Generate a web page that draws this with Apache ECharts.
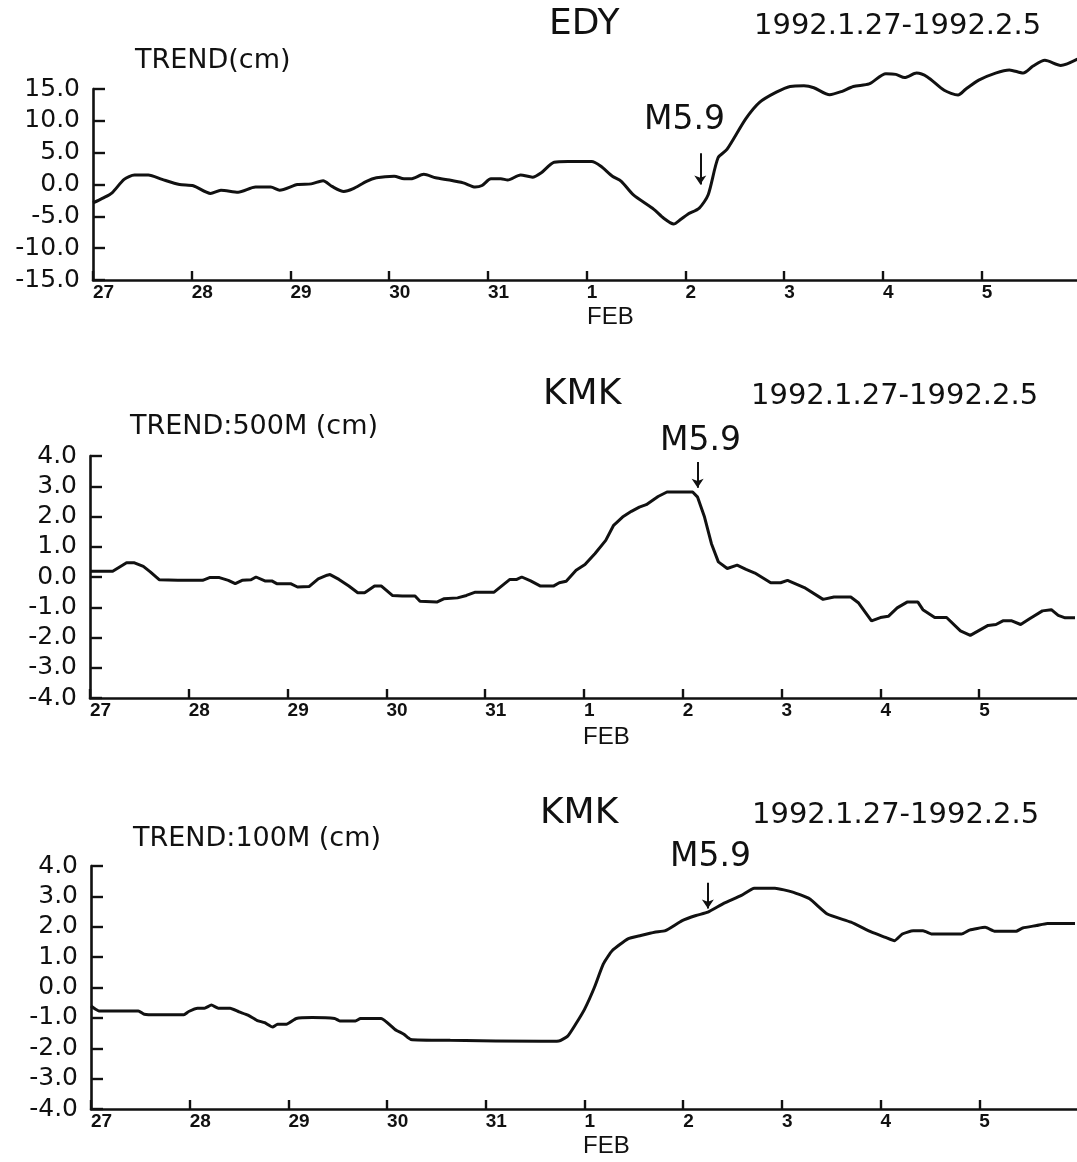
<!DOCTYPE html>
<html>
<head>
<meta charset="utf-8">
<script src="https://cdn.jsdelivr.net/npm/echarts@6/dist/echarts.min.js"></script>
<style>
html,body{margin:0;padding:0;background:#fff;}
#c{width:1077px;height:1162px;}
</style>
</head>
<body>
<div id="c"></div>
<script>
// x = days since 1992-01-27 00h
const tickLabels = ['27','28','29','30','31','1','2','3','4','5'];

const edyDay = [0,0.105,0.193,0.315,0.42,0.56,0.70,0.876,1.016,1.19,1.296,1.47,1.646,1.80,1.89,2.07,2.21,2.33,2.42,2.54,2.63,2.77,2.87,3.05,3.15,3.22,3.35,3.47,3.61,3.75,3.87,3.94,4.03,4.13,4.20,4.33,4.45,4.54,4.67,4.81,5.05,5.14,5.26,5.35,5.47,5.68,5.78,5.88,5.95,6.02,6.14,6.23,6.33,6.42,6.61,6.75,6.92,7.06,7.20,7.30,7.46,7.58,7.70,7.86,8.03,8.13,8.22,8.34,8.45,8.62,8.76,8.84,8.97,9.14,9.28,9.42,9.52,9.64,9.80,9.97];
const edyVal = [-2.9,-2.1,-1.3,0.8,1.5,1.5,0.8,0,-0.2,-1.4,-0.9,-1.2,-0.4,-0.4,-0.9,0,0.1,0.6,-0.3,-1.1,-0.7,0.5,1.05,1.3,0.9,0.9,1.6,1.05,0.7,0.25,-0.4,-0.15,0.9,0.9,0.7,1.5,1.15,1.85,3.5,3.6,3.6,2.9,1.3,0.5,-1.6,-3.9,-5.3,-6.2,-5.5,-4.7,-3.7,-1.6,4.2,5.5,10.3,12.9,14.5,15.4,15.5,15.2,14.1,14.6,15.4,15.8,17.4,17.3,16.8,17.5,16.9,14.8,14.05,15.0,16.4,17.5,18.0,17.5,18.6,19.5,18.7,19.7];

const k500Day = [0,0.23,0.37,0.45,0.54,0.61,0.70,0.89,1.14,1.21,1.31,1.40,1.47,1.54,1.63,1.68,1.77,1.84,1.89,2.03,2.10,2.22,2.31,2.40,2.43,2.52,2.62,2.71,2.78,2.88,2.95,3.06,3.16,3.29,3.34,3.51,3.58,3.72,3.81,3.90,4.09,4.25,4.32,4.37,4.46,4.56,4.69,4.75,4.82,4.92,5.01,5.11,5.22,5.30,5.39,5.48,5.56,5.63,5.75,5.84,6.10,6.15,6.22,6.29,6.36,6.45,6.55,6.64,6.73,6.89,6.99,7.06,7.23,7.42,7.53,7.70,7.78,7.91,8.00,8.08,8.17,8.27,8.38,8.43,8.55,8.67,8.81,8.91,9.09,9.17,9.24,9.33,9.42,9.51,9.64,9.73,9.80,9.87,9.97];
const k500Val = [0.19,0.19,0.47,0.47,0.35,0.17,-0.09,-0.11,-0.11,-0.02,-0.02,-0.11,-0.22,-0.11,-0.09,0,-0.13,-0.13,-0.22,-0.22,-0.33,-0.31,-0.06,0.06,0.08,-0.08,-0.30,-0.52,-0.52,-0.30,-0.30,-0.61,-0.63,-0.63,-0.80,-0.83,-0.72,-0.69,-0.61,-0.50,-0.50,-0.08,-0.08,0,-0.13,-0.30,-0.30,-0.19,-0.14,0.22,0.41,0.77,1.21,1.71,1.98,2.17,2.31,2.39,2.66,2.81,2.81,2.64,1.98,1.10,0.50,0.28,0.39,0.25,0.13,-0.19,-0.19,-0.11,-0.35,-0.74,-0.66,-0.66,-0.86,-1.45,-1.34,-1.30,-1.02,-0.83,-0.83,-1.08,-1.34,-1.34,-1.78,-1.93,-1.60,-1.57,-1.45,-1.45,-1.57,-1.38,-1.12,-1.08,-1.27,-1.35,-1.35];

const k100Day = [0,0.08,0.24,0.48,0.54,0.66,0.94,0.99,1.08,1.15,1.22,1.29,1.41,1.50,1.59,1.68,1.76,1.84,1.89,1.98,2.08,2.24,2.47,2.52,2.68,2.73,2.94,3.08,3.17,3.24,3.64,4.56,4.74,4.83,4.91,5.00,5.10,5.19,5.28,5.44,5.57,5.71,5.82,5.99,6.13,6.25,6.41,6.59,6.72,6.93,7.11,7.28,7.46,7.70,7.91,8.05,8.14,8.22,8.33,8.43,8.52,8.82,8.90,9.06,9.16,9.37,9.44,9.58,9.69,9.97];
const k100Val = [-0.61,-0.77,-0.77,-0.77,-0.88,-0.90,-0.90,-0.79,-0.68,-0.68,-0.58,-0.68,-0.68,-0.80,-0.91,-1.08,-1.16,-1.30,-1.21,-1.21,-1.02,-0.99,-1.02,-1.10,-1.10,-1.02,-1.02,-1.38,-1.54,-1.71,-1.74,-1.77,-1.76,-1.60,-1.21,-0.72,0,0.77,1.21,1.60,1.71,1.82,1.87,2.20,2.37,2.48,2.77,3.03,3.27,3.27,3.14,2.92,2.42,2.15,1.82,1.65,1.54,1.76,1.87,1.87,1.76,1.76,1.89,1.98,1.85,1.85,1.96,2.04,2.11,2.11];

// event arrows [day, yStart, yEnd]
const quakeArrows = [[6.15, 4.9, 0.0], [6.15, 3.8, 2.95], [6.25, 3.45, 2.6]];

const zip = (a, b) => a.map((v, i) => [v, b[i]]);
const BLACK = '#111';

function xAxisCfg(idx, max) {
  return {
    type: 'value', gridIndex: idx, min: 0, max: max, interval: 1,
    axisLine: { show: true, onZero: false, lineStyle: { color: BLACK, width: 2.6 } },
    axisTick: { show: true, inside: true, length: 9, lineStyle: { color: BLACK, width: 2.4 } },
    splitLine: { show: false },
    axisLabel: {
      show: true, margin: 3, align: 'left', color: BLACK,
      fontFamily: 'Liberation Sans', fontWeight: 'bold', fontSize: 19,
      showMaxLabel: false,
      formatter: v => (Number.isInteger(v) && tickLabels[v] !== undefined) ? tickLabels[v] : ''
    }
  };
}
function yAxisCfg(idx, lim, step) {
  return {
    type: 'value', gridIndex: idx, min: -lim, max: lim, interval: step,
    axisLine: { show: true, onZero: false, lineStyle: { color: BLACK, width: 2.6 } },
    axisTick: { show: true, inside: true, length: 12, lineStyle: { color: BLACK, width: 2.4 } },
    splitLine: { show: false },
    axisLabel: { margin: 13, color: BLACK, fontFamily: 'DejaVu Sans', fontSize: 25,
      formatter: v => v.toFixed(1) }
  };
}
function lineSeries(idx, data, smooth, arrow) {
  return {
    type: 'line', xAxisIndex: idx, yAxisIndex: idx, data: data,
    showSymbol: false, symbol: 'none', smooth: smooth, clip: false,
    lineStyle: { color: BLACK, width: 3 },
    markLine: {
      silent: true, symbol: ['none', 'arrow'], symbolSize: 9, animation: false,
      label: { show: false },
      lineStyle: { color: BLACK, width: 2, type: 'solid' },
      data: [[{ coord: [arrow[0], arrow[1]] }, { coord: [arrow[0], arrow[2]] }]]
    }
  };
}
function txt(x, y, text, size, family) {
  return { type: 'text', x: x, y: y, silent: true,
    style: { text: text, fill: BLACK, font: size + 'px "' + (family || 'DejaVu Sans') + '"',
      textAlign: 'left', textVerticalAlign: 'middle' } };
}

const chart = echarts.init(document.getElementById('c'), null, { renderer: 'canvas' });
chart.setOption({
  animation: false,
  backgroundColor: '#fff',
  grid: [
    { left: 93, top: 89, width: 984, height: 191 },
    { left: 90, top: 456, width: 987, height: 242 },
    { left: 91, top: 866, width: 986, height: 243 }
  ],
  xAxis: [xAxisCfg(0, 9.965), xAxisCfg(1, 9.99), xAxisCfg(2, 9.99)],
  yAxis: [yAxisCfg(0, 15, 5), yAxisCfg(1, 4, 1), yAxisCfg(2, 4, 1)],
  series: [
    lineSeries(0, zip(edyDay, edyVal), 0.25, quakeArrows[0]),
    lineSeries(1, zip(k500Day, k500Val), false, quakeArrows[1]),
    lineSeries(2, zip(k100Day, k100Val), 0.15, quakeArrows[2])
  ],
  graphic: [
    txt(549, 25, 'EDY', 36),
    txt(754, 26, '1992.1.27-1992.2.5', 29),
    txt(135, 61, 'TREND(cm)', 27),
    txt(644, 120, 'M5.9', 33),
    txt(587, 317, 'FEB', 24, 'Liberation Sans'),

    txt(543, 395, 'KMK', 36),
    txt(751, 396, '1992.1.27-1992.2.5', 29),
    txt(130, 427, 'TREND:500M (cm)', 27),
    txt(660, 441, 'M5.9', 33),
    txt(583, 737, 'FEB', 24, 'Liberation Sans'),

    txt(540, 814, 'KMK', 36),
    txt(752, 815, '1992.1.27-1992.2.5', 29),
    txt(133, 839, 'TREND:100M (cm)', 27),
    txt(670, 857, 'M5.9', 33),
    txt(583, 1146, 'FEB', 24, 'Liberation Sans')
  ]
});
</script>
</body>
</html>
